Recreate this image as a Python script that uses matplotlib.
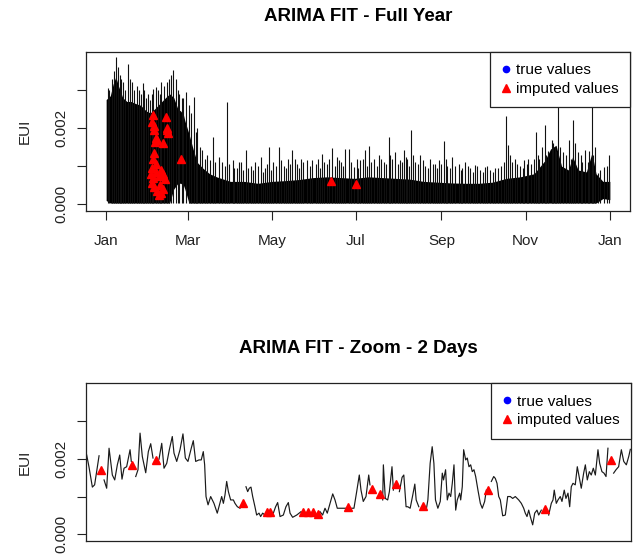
import numpy as np
import matplotlib
matplotlib.use("Agg")
import matplotlib.pyplot as plt
from matplotlib.lines import Line2D

plt.rcParams['font.family'] = ['Liberation Sans', 'DejaVu Sans']
plt.rcParams['font.size'] = 11

# ---------------- full year (days since Jan 1), EUI in units of 1e-3 ----------------
# dense part of the series: lower / upper edge of the solid black band
band_days = [0, 3, 5, 7, 9, 12, 15, 18, 21, 25, 29, 32, 35, 39, 43, 46, 49, 52, 54, 56,
             57, 60, 63, 66, 70, 75, 80, 90, 100, 110, 120, 130, 140, 150, 160, 170, 180,
             190, 200, 210, 220, 230, 240, 250, 260, 270, 280, 290, 300, 310, 318, 322,
             326, 330, 335, 338, 342, 348, 352, 355, 360, 365]
band_high = [2.75, 2.85, 3.15, 3.35, 3.1, 2.8, 2.7, 2.7, 2.65, 2.6, 2.45, 2.4, 2.5, 2.65,
             2.8, 2.9, 2.8, 2.5, 2.45, 2.35, 2.2, 1.85, 1.45, 1.1, 0.95, 0.8, 0.72, 0.6, 0.6,
             0.55, 0.6, 0.62, 0.65, 0.7, 0.72, 0.7, 0.68, 0.72, 0.7, 0.68, 0.66, 0.6, 0.58,
             0.56, 0.55, 0.55, 0.58, 0.68, 0.72, 0.8, 1.15, 1.45, 1.55, 1.0, 0.9, 1.25, 0.9,
             0.85, 1.35, 0.8, 0.6, 0.6]
band_low = [0.1, 0.03, 0.03, 0.03, 0.03, 0.03, 0.03, 0.03, 0.03, 0.03, 0.03, 0.03, 0.03,
            0.03, 0.03, 0.03, 0.4, 0.55, 0.55, 0.5, 0.4, 0.03, 0.03, 0.03, 0.03, 0.03, 0.03,
            0.03, 0.03, 0.03, 0.03, 0.03, 0.03, 0.03, 0.03, 0.03, 0.03, 0.03, 0.03, 0.03,
            0.03, 0.03, 0.03, 0.03, 0.03, 0.03, 0.03, 0.03, 0.03, 0.03, 0.03, 0.03, 0.03,
            0.03, 0.03, 0.03, 0.03, 0.03, 0.03, 0.03, 0.15, 0.12]

# single peaks sticking out of the band
spike_days = [1, 2, 4, 5.5, 7.2, 8.5, 10, 11, 12.5, 14, 16.1, 17.5, 19, 20, 22, 23.5, 25,
              26.5, 27.5, 29, 30, 31.5, 33, 34.2, 36.1, 37.5, 39, 40, 42, 44, 45.5, 47,
              48.6, 50.5, 52, 53, 54.7, 56, 58, 60, 61.5, 63.3, 65, 66, 68, 69.8, 71.5, 73,
              75, 77.1, 79, 81.9, 84, 86, 87.4, 89, 91.6, 93, 95, 96.5, 98, 99.5,
              101.2, 103, 105, 106.5, 108, 110, 112, 113.5, 115, 116.5, 118.1, 119.5, 121,
              123, 125.3, 127, 129, 130.5, 132, 133.5, 134.9, 136.5, 138, 139.5, 141, 143,
              145.7, 147.5, 149.4, 151.8, 153.5, 155, 156.6, 158, 160, 161.5, 163.8, 165.5,
              167.4, 168.5, 170, 171.5, 173, 175.9, 177.5, 179.4, 181.5, 182.5, 184, 186,
              187.9, 189, 190.3, 192, 194, 196, 197.5, 199, 201, 203, 204.8, 206, 207,
              209.6, 211.5, 213, 214.5, 215.6, 217, 218, 219.5, 221.1, 222.5, 224, 226,
              227.7, 229.5, 231, 233, 234.9, 236.5, 238, 239.5, 241, 243, 244.5, 246, 247,
              249, 250.5, 252.5, 255.4, 257, 258, 260.2, 262, 264, 266, 267.4, 269, 271,
              273, 274.6, 276, 278, 280, 281.9, 284, 286, 288, 289.6, 291.5, 293, 294,
              296.4, 298, 300, 302, 303, 305, 306, 308, 310, 311.3, 313, 314, 316, 318,
              319, 320, 322.9, 324, 325, 326, 327.2, 329, 331.3, 333, 335.4, 337, 338.5,
              340, 342.2, 344, 345, 347, 349, 350, 351.8, 353, 354, 356.6, 358, 361, 363,
              364.3]
spike_vals = [3.05, 3.0, 3.3, 3.5, 3.86, 3.6, 3.4, 3.3, 3.2, 3.0, 3.68, 3.3, 3.2, 3.0, 3.1,
              3.0, 2.9, 3.18, 3.0, 2.8, 2.9, 2.75, 2.9, 3.04, 3.09, 3.0, 2.9, 3.2, 3.1, 3.2,
              3.3, 3.4, 3.53, 3.3, 3.0, 2.9, 2.78, 2.8, 2.95, 2.6, 2.4, 2.82, 1.9, 2.0, 1.5,
              1.42, 1.2, 1.3, 1.15, 1.77, 1.1, 1.25, 1.1, 1.0, 2.69, 1.05, 1.16, 0.95, 0.95,
              1.1, 1.1, 0.9,
              1.42, 0.95, 1.0, 0.9, 1.1, 1.0, 1.25, 0.85, 0.95, 1.05, 1.51, 0.9, 1.1,
              1.0, 1.51, 1.15, 1.0, 0.95, 1.2, 1.05, 1.42, 1.2, 1.05, 0.95, 1.2, 1.1,
              1.16, 1.0, 1.16, 1.07, 1.2, 0.95, 1.33, 1.1, 1.05, 1.2, 1.49, 1.0,
              1.25, 1.15, 1.1, 1.0, 1.46, 1.44, 1.1, 0.98, 1.2, 0.95, 1.15, 1.2,
              1.42, 1.0, 1.52, 1.1, 1.2, 1.0, 1.29, 1.2, 1.1, 1.05, 1.77, 1.3, 1.2,
              1.38, 1.05, 1.15, 1.1, 1.42, 1.25, 1.2, 1.0, 1.95, 1.3, 1.1, 1.05,
              1.29, 1.15, 1.0, 0.95, 1.2, 1.05, 1.05, 0.95, 1.15, 1.05, 1.66, 1.2, 1.0,
              0.95, 1.25, 1.0, 1.07, 0.9, 0.95, 1.11, 1.0, 0.95, 0.85, 1.02, 1.0, 0.9,
              0.85, 0.98, 1.0, 0.9, 0.85, 0.94, 0.95, 1.0, 1.1, 2.32, 1.55, 1.3, 1.1,
              1.2, 1.05, 1.0, 0.95, 1.15, 1.05, 1.2, 1.05, 1.2, 1.9, 1.3, 1.2, 1.5, 2.08,
              1.3, 1.4, 1.68, 1.6, 1.5, 1.4, 2.69, 1.5, 1.38, 1.3, 1.68, 1.2, 2.21,
              1.6, 1.38, 1.3, 1.1, 1.42, 1.1, 1.4, 2.67, 1.3, 1.5, 0.81, 0.9, 0.98, 1.0,
              1.29]

# imputed points (full year)
imp_days = [33.7, 43.4, 33.5, 34.5, 35.0, 44.2, 44.5, 43.8, 36.0, 35.5, 37.0, 41.0, 35.0,
            34.0, 36.0, 33.0, 32.5, 34.0, 36.0, 38.0, 40.0, 41.5, 42.5, 33.0, 35.0, 37.0,
            39.0, 40.0, 38.5, 41.0, 54.2, 162.6, 181.0]
imp_vals = [2.34, 2.30, 2.15, 2.05, 1.95, 2.00, 1.88, 1.95, 1.75, 1.64, 1.68, 1.60, 1.35,
            1.20, 1.05, 0.95, 0.80, 0.70, 0.85, 0.75, 0.90, 0.80, 0.65, 0.55, 0.45, 0.35,
            0.50, 0.30, 0.25, 0.40, 1.18, 0.61, 0.53]

month_days = [0, 59, 120, 181, 243, 304, 365]
month_labels = ['Jan', 'Mar', 'May', 'Jul', 'Sep', 'Nov', 'Jan']

# ---------------- 2 day zoom (hours), nan = missing true value ----------------
nan = np.nan
zoom_hours = [0.06, 0.26, 0.56, 0.76, 1.00, 1.15, 1.3,
              1.59, 1.82, 2.03, 2.32, 2.53, 2.76, 2.97, 3.17, 3.35, 3.58, 3.88, 3.99, 4.1,
              4.38, 4.58, 4.76, 4.96, 5.26, 5.49, 5.70, 5.90, 6.2,
              6.43, 6.67, 6.87, 7.11, 7.34, 7.60, 7.75, 7.99, 8.28, 8.54, 8.75, 8.98, 9.27,
              9.45, 9.66, 9.95, 10.15, 10.33, 10.45, 10.57, 10.75, 10.98, 11.27, 11.56,
              11.95, 12.10, 12.24, 12.39, 12.54, 12.74, 12.98, 13.12, 13.33, 13.56, 13.8,
              14.09, 14.24, 14.38, 14.53, 14.68, 14.88, 15.03, 15.24, 15.38, 15.56, 15.76, 16.0,
              16.50, 16.70, 16.88, 17.09, 17.38, 17.61, 17.82, 17.97, 18.20, 18.56, 18.94, 19.5,
              20.61, 20.84, 21.05, 21.25, 21.49, 21.73, 21.93, 22.13, 22.52, 22.90, 23.1,
              23.40, 23.60, 23.84,
              24.07, 24.22, 24.42, 24.66, 24.90, 25.01, 25.5,
              26.13, 26.19, 26.36, 26.57, 26.72, 26.95, 27.07, 27.3,
              27.60, 27.84, 27.99, 28.19, 28.34, 28.55, 28.78, 28.96, 29.08, 29.31, 29.6,
              29.96, 30.11, 30.31, 30.49, 30.64, 30.78, 30.99, 31.20, 31.38, 31.49, 31.67,
              31.82, 31.97, 32.12, 32.26, 32.41, 32.56, 32.70, 32.91, 33.00, 33.14, 33.26,
              33.44, 33.58, 33.73, 33.88, 34.02, 34.17, 34.32, 34.52, 34.73, 34.90, 35.11,
              35.26, 35.4,
              35.70, 35.91,
              36.05, 36.20, 36.35, 36.49, 36.70, 36.93, 37.14, 37.37, 37.58, 37.81, 38.11,
              38.34, 38.55, 38.69, 38.84, 38.99, 39.13, 39.34, 39.52, 39.72, 39.87, 40.10, 40.4,
              40.75, 40.98, 41.13, 41.24, 41.42, 41.57, 41.77, 41.92, 42.12, 42.27, 42.45,
              42.60, 42.74, 42.89, 43.09, 43.27, 43.48, 43.62, 43.83, 43.98, 44.15, 44.33,
              44.50, 44.68, 44.86, 45.09, 45.24, 45.44, 45.62, 45.80, 45.97, 46.2,
              46.47, 46.68, 46.91, 47.15, 47.36, 47.59, 47.80, 47.94]
zoom_eui = [2.10, 1.79, 1.25, 1.31, 1.79, 2.08, nan,
            1.44, 1.22, 2.28, 1.57, 1.44, 1.84, 2.10, 1.46, 1.75, 1.79, 2.24, 1.93, nan,
            1.53, 1.71, 2.68, 2.06, 1.63, 2.19, 2.40, 2.02, nan,
            1.99, 2.41, 1.75, 1.88, 2.24, 2.59, 2.15, 1.93, 2.24, 2.66, 2.02, 1.93, 2.28,
            2.48, 1.93, 1.97, 1.97, 2.19, 1.84, 1.00, 0.78, 1.00, 0.82, 0.56,
            1.00, 0.82, 1.04, 1.40, 1.13, 0.91, 0.91, 0.82, 0.73, 0.69, nan,
            1.26, 1.13, 1.22, 1.25, 1.00, 0.73, 0.51, 0.56, 0.47, 0.56, 0.51, nan,
            0.56, 0.73, 0.84, 0.47, 0.51, 0.73, 0.84, 0.56, 0.45, 0.51, 0.60, nan,
            0.60, 0.51, 0.69, 0.56, 0.82, 1.07, 0.91, 0.69, 0.69, 0.69, nan,
            0.69, 0.69, 1.13,
            1.57, 1.17, 0.87, 1.00, 1.57, 1.31, nan,
            0.91, 1.84, 0.95, 0.91, 1.13, 1.79, 1.17, nan,
            1.13, 1.51, 1.57, 0.73, 0.73, 0.69, 1.04, 1.33, 0.91, 0.73, nan,
            0.64, 0.91, 1.88, 2.32, 1.88, 0.91, 0.69, 0.87, 1.62, 1.44, 1.71,
            0.91, 1.09, 1.00, 1.35, 1.84, 0.64, 0.91, 1.09, 0.91, 1.26, 2.24,
            1.97, 2.02, 1.79, 1.84, 1.66, 1.71, 1.53, 1.17, 0.82, 0.69, 0.87,
            1.17, nan,
            1.40, 1.53,
            1.48, 1.35, 1.00, 0.91, 0.49, 0.51, 1.00, 1.00, 0.95, 1.00, 0.91,
            0.82, 0.69, 0.56, 0.47, 0.64, 0.47, 0.25, 0.56, 0.64, 0.51, 0.64, nan,
            0.51, 0.82, 0.91, 1.17, 0.82, 0.91, 1.00, 0.87, 1.17, 0.95, 1.09,
            0.73, 1.26, 1.35, 1.31, 1.79, 1.44, 1.22, 1.62, 1.84, 1.44, 1.66,
            1.57, 1.75, 1.57, 2.24, 1.88, 1.66, 1.62, 1.53, 2.28, nan,
            1.62, 1.71, 1.79, 2.24, 1.93, 1.84, 2.06, 2.25]

zoom_imp_hours = [1.35, 4.08, 6.19, 13.85, 15.9, 16.2, 19.11, 19.55, 19.99, 20.43, 23.10,
                  25.19, 25.89, 27.31, 29.66, 35.41, 40.45, 46.27]
zoom_imp_vals = [1.71, 1.84, 1.96, 0.82, 0.58, 0.58, 0.60, 0.59, 0.58, 0.55, 0.73,
                 1.19, 1.07, 1.33, 0.75, 1.16, 0.66, 1.97]


def style_axes(ax):
    """R base graphics look"""
    for s in ax.spines.values():
        s.set_linewidth(0.9)
        s.set_color('#222222')
    ax.set_ylim(-0.00017, 0.004)
    ax.set_yticks([0, 0.001, 0.002, 0.003])
    ax.set_yticklabels(['0.000', '', '0.002', ''])
    ax.tick_params(axis='y', direction='out', length=6.5, width=0.8, pad=6,
                   labelsize=11, colors='#222222')
    for lab in ax.get_yticklabels():
        lab.set_rotation(90)
        lab.set_va('center')
    ax.set_ylabel('EUI', fontsize=11, color='#222222')
    ax.yaxis.set_label_coords(-0.10, 0.5)
    handles = [Line2D([], [], ls='none', marker='o', color='blue', markersize=4.5),
               Line2D([], [], ls='none', marker='^', color='red', markersize=5.5)]
    leg = ax.legend(handles, ['true values', 'imputed values'], loc='upper right',
                    fontsize=11, borderaxespad=0, borderpad=0.75, labelspacing=0.3,
                    handlelength=0.6, handletextpad=0.35, fancybox=False,
                    framealpha=1, edgecolor='#222222')
    leg.get_frame().set_linewidth(0.9)


fig = plt.figure(figsize=(6.36, 5.55), dpi=100)

# full year
ax1 = fig.add_axes([86 / 636, 1 - 210.7 / 555, 544 / 636, 158.7 / 555])
low = np.array(band_low) * 1e-3
ax1.fill_between(band_days, low, np.array(band_high) * 1e-3, color='black', lw=0)
ax1.vlines(spike_days, 0.00003, np.array(spike_vals) * 1e-3, color='#111111', lw=0.8)
ax1.plot(imp_days, np.array(imp_vals) * 1e-3, ls='none', marker='^', color='red',
         markersize=6)
ax1.set_xlim(-14.6, 379.6)
ax1.set_xticks(month_days)
ax1.set_xticklabels(month_labels)
ax1.tick_params(axis='x', direction='out', length=6.5, width=0.8, pad=10,
                labelsize=11, colors='#222222')
ax1.set_title('ARIMA FIT - Full Year', fontsize=13.5, fontweight='bold', pad=22)
style_axes(ax1)

# two days
ax2 = fig.add_axes([86 / 636, 1 - 540.7 / 555, 545 / 636, 157.4 / 555])
ax2.plot(zoom_hours, np.array(zoom_eui) * 1e-3, color='#1a1a1a', lw=0.85)
ax2.plot(zoom_imp_hours, np.array(zoom_imp_vals) * 1e-3, ls='none', marker='^',
         color='red', markersize=6)
ax2.set_xlim(0, 48)
ax2.set_xticks([])
ax2.set_title('ARIMA FIT - Zoom - 2 Days', fontsize=13.5, fontweight='bold', pad=22)
style_axes(ax2)

fig.savefig('out.png', dpi=100)
